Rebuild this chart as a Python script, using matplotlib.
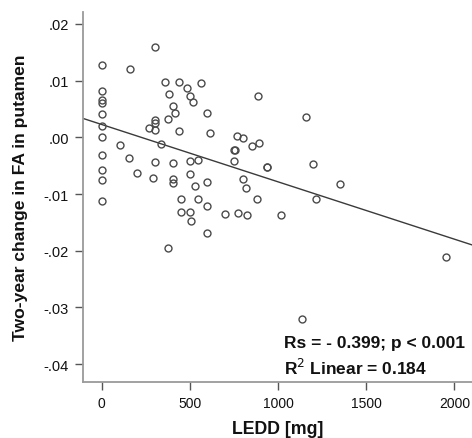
import matplotlib
matplotlib.use("Agg")
import matplotlib.pyplot as plt
import numpy as np

plt.rcParams['font.family'] = ['Liberation Sans', 'DejaVu Sans']

# LEDD [mg] values (x) and two-year change in FA in putamen (y)
ledd = [0, 0, 0, 0, 0, 0, 0, 0, 0, 0, 0,
        102, 153, 160, 202, 270, 293, 300, 300, 300, 304, 304, 338, 361, 376, 378,
        380, 402, 402, 402, 402, 417, 437, 440, 451, 451, 485, 499, 499, 499, 499,
        508, 518, 527, 546, 546, 561, 597, 597, 597, 597, 616, 701, 750, 752, 758,
        765, 774, 799, 799, 818, 825, 852, 882, 884, 890, 935, 940, 1016, 1135,
        1156, 1196, 1215, 1351, 1954]
fa_change = [0.0128, 0.0082, 0.0065, 0.0061, 0.0041, 0.0020, 0.0000, -0.0032, -0.0058, -0.0075, -0.0112,
             -0.0013, -0.0037, 0.0120, -0.0063, 0.0016, -0.0071, 0.0159, 0.0031, 0.0026, 0.0013, -0.0044,
             -0.0011, 0.0097, 0.0032, -0.0196,
             0.0076, 0.0056, -0.0045, -0.0074, -0.0080, 0.0042, 0.0098, 0.0011, -0.0108, -0.0132,
             0.0087, 0.0073, -0.0041, -0.0065, -0.0132,
             -0.0148, 0.0062, -0.0086, -0.0040, -0.0108, 0.0096, 0.0043, -0.0078, -0.0121, -0.0168,
             0.0008, -0.0135, -0.0042, -0.0022, -0.0022,
             0.0002, -0.0134, -0.0002, -0.0073, -0.0089, -0.0137, -0.0016, -0.0109, 0.0072, -0.0010,
             -0.0053, -0.0053, -0.0137, -0.0320,
             0.0035, -0.0047, -0.0108, -0.0082, -0.0211]

fit_intercept = 0.00226
fit_slope = -1.011e-5

x_ticks = [0, 500, 1000, 1500, 2000]
x_tick_labels = ['0', '500', '1000', '1500', '2000']
y_ticks = [0.02, 0.01, 0.0, -0.01, -0.02, -0.03, -0.04]
y_tick_labels = ['.02', '.01', '.00', '-.01', '-.02', '-.03', '-.04']

x_label = 'LEDD [mg]'
y_label = 'Two-year change in FA in putamen'
stat_line1 = 'Rs = - 0.399; p < 0.001'
stat_line2 = r'R$^2$ Linear = 0.184'

fig = plt.figure(figsize=(4.72, 4.39), dpi=100)
ax = fig.add_axes([0.1752, 0.1269, 0.8248, 0.8435])

xlim = (-108, 2100)
ylim = (-0.0432, 0.0221)

ax.plot(ledd, fa_change, linestyle='none', marker='o', markersize=5.0,
        markerfacecolor='none', markeredgecolor='#4a4a4a', markeredgewidth=1.0, zorder=3)

xs = np.array(xlim, dtype=float)
ax.plot(xs, fit_intercept + fit_slope * xs, color='#3a3a3a', linewidth=1.0, zorder=2)

ax.set_xlim(*xlim)
ax.set_ylim(*ylim)
ax.set_xticks(x_ticks)
ax.set_xticklabels(x_tick_labels)
ax.set_yticks(y_ticks)
ax.set_yticklabels(y_tick_labels)

for s in ['top', 'right']:
    ax.spines[s].set_visible(False)
for s in ['left', 'bottom']:
    ax.spines[s].set_color('#9a9a9a')
    ax.spines[s].set_linewidth(1.3)

ax.tick_params(axis='both', direction='out', length=6, width=1.0, color='#555555',
               labelcolor='#111111', pad=4)
ax.tick_params(axis='x', labelsize=10)
ax.tick_params(axis='y', labelsize=10.5)

ax.set_xlabel(x_label, fontsize=12.8, fontweight='bold', labelpad=7, color='#111111')
ax.set_ylabel(y_label, fontsize=12.6, fontweight='bold', labelpad=11, color='#111111')

ax.text(0.518, 0.0945, stat_line1, transform=ax.transAxes, fontsize=12.5,
        fontweight='bold', color='#111111', ha='left', va='baseline')
ax.text(0.518, 0.0224, stat_line2, transform=ax.transAxes, fontsize=12.5,
        fontweight='bold', color='#111111', ha='left', va='baseline')

fig.savefig('out.png', dpi=100)
